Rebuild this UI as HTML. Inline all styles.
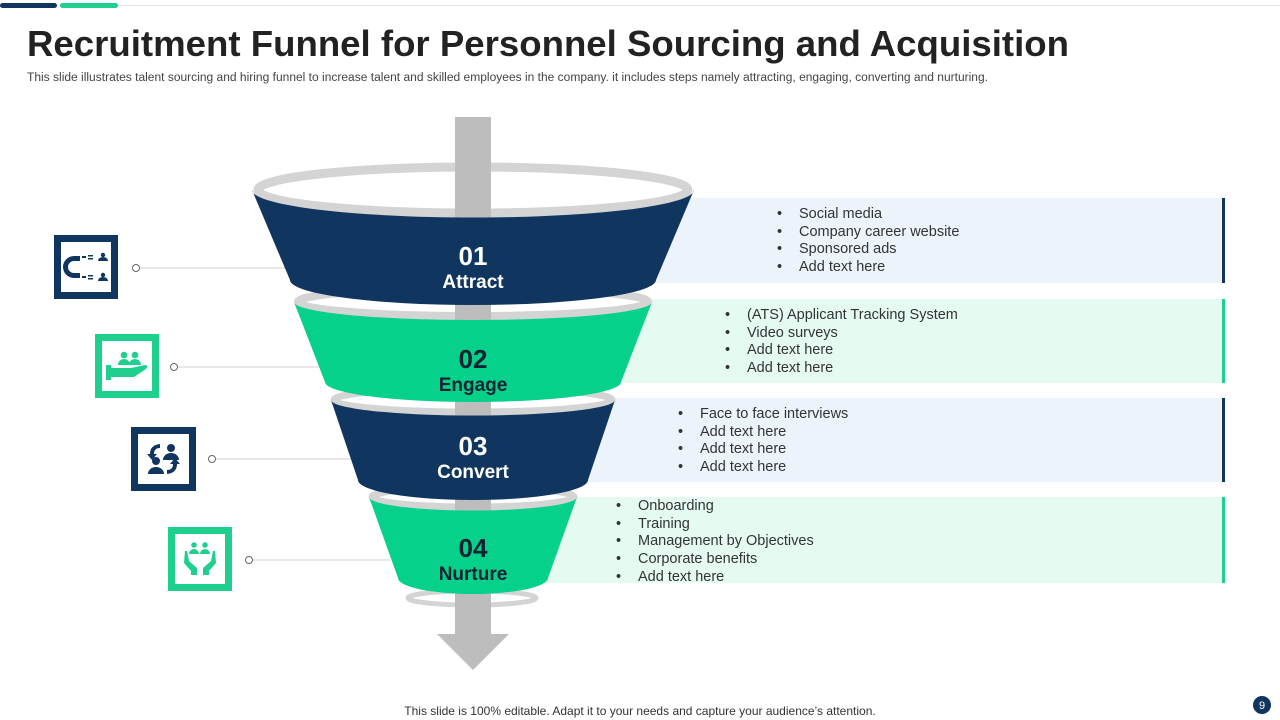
<!DOCTYPE html>
<html><head><meta charset="utf-8"><style>
html,body{margin:0;padding:0;background:#fff;}
svg{display:block;font-family:"Liberation Sans",sans-serif;}
</style></head><body>
<svg width="1280" height="720" viewBox="0 0 1280 720" xmlns="http://www.w3.org/2000/svg">
<rect x="0" y="0" width="1280" height="720" fill="#fff"/>
<line x1="118" y1="5.5" x2="1280" y2="5.5" stroke="#e2e2e2" stroke-width="1"/>
<rect x="0" y="3" width="57" height="5" rx="2.5" fill="#10355f"/>
<rect x="60" y="3" width="58" height="5" rx="2.5" fill="#1ecf8e"/>
<text x="27" y="56" font-size="36" font-weight="bold" fill="#222" textLength="1042" lengthAdjust="spacingAndGlyphs">Recruitment Funnel for Personnel Sourcing and Acquisition</text>
<text x="27" y="81" font-size="11.5" fill="#444" textLength="961" lengthAdjust="spacingAndGlyphs">This slide illustrates talent sourcing and hiring funnel to increase talent and skilled employees in the company. it includes steps namely attracting, engaging, converting and nurturing.</text>

<!-- panels -->
<rect x="560" y="198" width="665" height="85" fill="#edf3fb"/><rect x="1222" y="198" width="3" height="85" fill="#10355f"/>
<rect x="520" y="299" width="705" height="84" fill="#e5fbf2"/><rect x="1222" y="299" width="3" height="84" fill="#1ecf8e"/>
<rect x="520" y="398" width="705" height="84" fill="#edf3fb"/><rect x="1222" y="398" width="3" height="84" fill="#10355f"/>
<rect x="500" y="497" width="725" height="86" fill="#e5fbf2"/><rect x="1222" y="497" width="3" height="86" fill="#1ecf8e"/>

<g font-size="14.5" fill="#333">
<text x="777" y="218">•</text><text x="799" y="218">Social media</text>
<text x="777" y="236">•</text><text x="799" y="236">Company career website</text>
<text x="777" y="253">•</text><text x="799" y="253">Sponsored ads</text>
<text x="777" y="271">•</text><text x="799" y="271">Add text here</text>
<text x="725" y="319">•</text><text x="747" y="319">(ATS) Applicant Tracking System</text>
<text x="725" y="337">•</text><text x="747" y="337">Video surveys</text>
<text x="725" y="354">•</text><text x="747" y="354">Add text here</text>
<text x="725" y="372">•</text><text x="747" y="372">Add text here</text>
<text x="678" y="418">•</text><text x="700" y="418">Face to face interviews</text>
<text x="678" y="436">•</text><text x="700" y="436">Add text here</text>
<text x="678" y="453">•</text><text x="700" y="453">Add text here</text>
<text x="678" y="471">•</text><text x="700" y="471">Add text here</text>
<text x="616" y="510">•</text><text x="638" y="510">Onboarding</text>
<text x="616" y="528">•</text><text x="638" y="528">Training</text>
<text x="616" y="545">•</text><text x="638" y="545">Management by Objectives</text>
<text x="616" y="563">•</text><text x="638" y="563">Corporate benefits</text>
<text x="616" y="581">•</text><text x="638" y="581">Add text here</text>
</g>

<!-- connector lines -->
<g stroke="#cfcfcf" stroke-width="1">
<line x1="140" y1="268" x2="290" y2="268"/>
<line x1="178" y1="367" x2="325" y2="367"/>
<line x1="216" y1="459" x2="355" y2="459"/>
<line x1="253" y1="560" x2="390" y2="560"/>
</g>
<g fill="#fff" stroke="#666" stroke-width="1">
<circle cx="136" cy="268" r="3.5"/><circle cx="174" cy="367" r="3.5"/><circle cx="212" cy="459" r="3.5"/><circle cx="249" cy="560" r="3.5"/>
</g>

<!-- rim rings -->
<g fill="#fff" stroke="#d4d4d4">
<ellipse cx="473" cy="190" rx="215" ry="23" stroke-width="9"/>
<ellipse cx="473" cy="302" rx="175" ry="14" stroke-width="8"/>
<ellipse cx="473" cy="400" rx="139" ry="12" stroke-width="7"/>
<ellipse cx="473" cy="497" rx="101" ry="10" stroke-width="7"/>
<ellipse cx="472" cy="598" rx="64" ry="7" stroke-width="5"/>
</g>

<!-- arrow -->
<rect x="455" y="117" width="36" height="520" fill="#bdbdbd"/>
<polygon points="437,634 509,634 473,670" fill="#bdbdbd"/>

<!-- bands -->
<path d="M252,190 L290,280 A183,25 0 0 0 656,280 L694,190 A221,27.5 0 0 1 252,190 Z" fill="#10355f"/>
<path d="M294,302 L325,382 A148,20 0 0 0 621,382 L652,302 A179,18 0 0 1 294,302 Z" fill="#05d18a"/>
<path d="M331,400 L358,480 A115,20 0 0 0 588,480 L615,400 A142,15.5 0 0 1 331,400 Z" fill="#10355f"/>
<path d="M369,497 L398,578 A75,16 0 0 0 548,578 L577,497 A104,13.5 0 0 1 369,497 Z" fill="#05d18a"/>

<g text-anchor="middle" font-weight="bold">
<text x="473" y="265" font-size="26" fill="#fff">01</text>
<text x="473" y="288" font-size="19" fill="#fff">Attract</text>
<text x="473" y="368" font-size="26" fill="#123">02</text>
<text x="473" y="391" font-size="19" fill="#123">Engage</text>
<text x="473" y="455" font-size="26" fill="#fff">03</text>
<text x="473" y="478" font-size="19" fill="#fff">Convert</text>
<text x="473" y="557" font-size="26" fill="#123">04</text>
<text x="473" y="580" font-size="19" fill="#123">Nurture</text>
</g>

<!-- icon boxes -->
<rect x="57.5" y="238.5" width="57" height="57" fill="#fff" stroke="#10355f" stroke-width="7"/>
<path d="M80,256 h-6 a10,10 0 0 0 0,22 h6 v-5 h-6 a5,5 0 0 1 0,-12 h6 z" fill="#10355f"/>
<g fill="#10355f"><rect x="82" y="256" width="4" height="2"/><rect x="88" y="255" width="5" height="1.5"/><rect x="88" y="258" width="5" height="1.5"/><circle cx="103" cy="255" r="2.2"/><path d="M98,261 a5,4 0 0 1 10,0 z"/>
<rect x="82" y="276" width="4" height="2"/><rect x="88" y="275" width="5" height="1.5"/><rect x="88" y="278" width="5" height="1.5"/><circle cx="103" cy="275" r="2.2"/><path d="M98,281 a5,4 0 0 1 10,0 z"/></g>

<rect x="98.5" y="337.5" width="57" height="57" fill="#fff" stroke="#1ecf8e" stroke-width="7"/>
<g fill="#1ecf8e"><circle cx="124" cy="355" r="3.3"/><circle cx="135" cy="355" r="3.3"/><path d="M118,365 a6,6 0 0 1 12,0 z"/><path d="M129,365 a6,6 0 0 1 12,0 z"/>
<path d="M106,365 h5 v3 h20 l14,-3 q4,0 1,4 l-12,8 h-23 v3 h-5 z"/></g>

<rect x="134.5" y="430.5" width="58" height="57" fill="#fff" stroke="#10355f" stroke-width="7"/>
<g fill="#10355f"><circle cx="171" cy="448" r="4"/><path d="M163,460 a8,7 0 0 1 16,0 z"/><circle cx="156" cy="461" r="4"/><path d="M148,474 a8,7 0 0 1 16,0 z"/>
<path d="M160,444 q-10,1 -10,10 h-3 l5,6 l5,-6 h-3 q0,-6 6,-6 z"/><path d="M167,474 q10,-1 10,-10 h3 l-5,-6 l-5,6 h3 q0,6 -6,6 z"/></g>

<rect x="171.5" y="530.5" width="57" height="57" fill="#fff" stroke="#1ecf8e" stroke-width="7"/>
<g fill="#1ecf8e"><circle cx="194" cy="545" r="2.8"/><circle cx="205" cy="545" r="2.8"/><path d="M189,554 a5,5 0 0 1 10,0 z"/><path d="M200,554 a5,5 0 0 1 10,0 z"/>
<path d="M185,551 l2,0 l2,10 l8,7 v7 h-6 v-4 l-7,-8 z"/><path d="M215,551 l-2,0 l-2,10 l-8,7 v7 h6 v-4 l7,-8 z"/></g>

<text x="640" y="715" text-anchor="middle" font-size="12" fill="#333">This slide is 100% editable. Adapt it to your needs and capture your audience’s attention.</text>
<circle cx="1262" cy="705" r="9" fill="#10355f"/>
<text x="1262" y="709" text-anchor="middle" font-size="11" fill="#fff">9</text>
</svg>
</body></html>
